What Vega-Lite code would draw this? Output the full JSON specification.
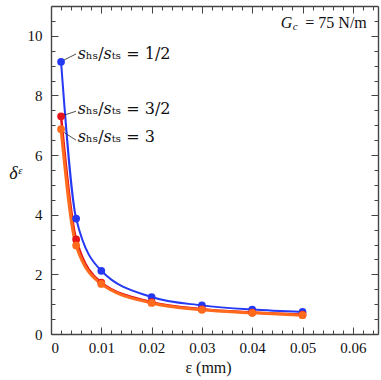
{
  "$schema": "https://vega.github.io/schema/vega-lite/v6.json",
  "width": 327,
  "height": 328,
  "autosize": "none",
  "padding": {"left": 51, "top": 6, "right": 3, "bottom": 46},
  "background": "white",
  "config": {
    "view": {"stroke": null},
    "font": "Liberation Serif",
    "text": {"font": "Liberation Serif"},
    "axis": {
      "grid": false,
      "domainColor": "#444",
      "domainWidth": 1.4,
      "tickColor": "#444",
      "tickWidth": 1,
      "labelFont": "Liberation Serif",
      "labelFontSize": 15,
      "labelColor": "#111",
      "titleFont": "Liberation Serif",
      "titleFontWeight": "normal",
      "titleColor": "#111"
    }
  },
  "datasets": {
    "series": [
      {"eps": 0.002, "delta": 9.13, "s": "1/2"},
      {"eps": 0.005, "delta": 3.87, "s": "1/2"},
      {"eps": 0.01, "delta": 2.12, "s": "1/2"},
      {"eps": 0.02, "delta": 1.24, "s": "1/2"},
      {"eps": 0.03, "delta": 0.96, "s": "1/2"},
      {"eps": 0.04, "delta": 0.82, "s": "1/2"},
      {"eps": 0.05, "delta": 0.74, "s": "1/2"},
      {"eps": 0.002, "delta": 7.3, "s": "3/2"},
      {"eps": 0.005, "delta": 3.17, "s": "3/2"},
      {"eps": 0.01, "delta": 1.72, "s": "3/2"},
      {"eps": 0.02, "delta": 1.07, "s": "3/2"},
      {"eps": 0.03, "delta": 0.83, "s": "3/2"},
      {"eps": 0.04, "delta": 0.72, "s": "3/2"},
      {"eps": 0.05, "delta": 0.65, "s": "3/2"},
      {"eps": 0.002, "delta": 6.87, "s": "3"},
      {"eps": 0.005, "delta": 2.97, "s": "3"},
      {"eps": 0.01, "delta": 1.68, "s": "3"},
      {"eps": 0.02, "delta": 1.04, "s": "3"},
      {"eps": 0.03, "delta": 0.81, "s": "3"},
      {"eps": 0.04, "delta": 0.71, "s": "3"},
      {"eps": 0.05, "delta": 0.63, "s": "3"}
    ],
    "leaders": [
      {"x1": 0.0026, "y1": 9.19, "x2": 0.00497, "y2": 9.39},
      {"x1": 0.0026, "y1": 7.34, "x2": 0.00497, "y2": 7.47},
      {"x1": 0.0026, "y1": 6.76, "x2": 0.00497, "y2": 6.5}
    ],
    "labels": [
      {"lx": 0.0053, "ly": 9.4, "txt": "𝑠ₕₛ/𝑠ₜₛ = 1/2"},
      {"lx": 0.0053, "ly": 7.55, "txt": "𝑠ₕₛ/𝑠ₜₛ = 3/2"},
      {"lx": 0.0053, "ly": 6.6, "txt": "𝑠ₕₛ/𝑠ₜₛ = 3"}
    ],
    "note": [
      {"nx": 0.06277, "ny": 10.43, "txt": "= 75 N/m"}
    ]
  },
  "layer": [
    {
      "data": {"name": "series"},
      "mark": {"type": "line", "interpolate": "monotone"},
      "encoding": {
        "x": {
          "field": "eps", "type": "quantitative",
          "scale": {"domain": [0, 0.065], "nice": false, "zero": false},
          "axis": {
            "orient": "bottom",
            "values": [0, 0.01, 0.02, 0.03, 0.04, 0.05, 0.06],
            "labelExpr": "datum.value == 0 ? '0' : format(datum.value, '.2f')",
            "labelFont": "Liberation Serif",
            "tickSize": -7,
            "labelPadding": 13,
            "title": "ε (mm)",
            "titleFont": "Liberation Serif",
            "titleFontSize": 16,
            "titleX": 157,
            "titleY": 33,
            "titleBaseline": "middle"
          }
        },
        "y": {
          "field": "delta", "type": "quantitative",
          "scale": {"domain": [0, 11], "nice": false, "zero": false},
          "axis": {
            "orient": "left",
            "values": [0, 2, 4, 6, 8, 10],
            "labelFont": "Liberation Serif",
            "tickSize": -7,
            "labelPadding": 16,
            "title": "δᵋ",
            "titleFont": "Liberation Serif",
            "titleFontStyle": "italic",
            "titleFontSize": 18,
            "titleAngle": 0,
            "titleX": -36,
            "titleY": 167,
            "titleAlign": "center",
            "titleBaseline": "middle"
          }
        },
        "color": {
          "field": "s", "type": "nominal",
          "scale": {"domain": ["1/2", "3/2", "3"], "range": ["#2639f2", "#e5141b", "#ff6a1c"]},
          "legend": null
        },
        "strokeWidth": {
          "field": "s", "type": "nominal",
          "scale": {"domain": ["1/2", "3/2", "3"], "range": [2, 3, 3.2]},
          "legend": null
        }
      }
    },
    {
      "data": {"name": "series"},
      "mark": {"type": "circle", "opacity": 1, "size": 60},
      "encoding": {
        "x": {"field": "eps", "type": "quantitative", "axis": null},
        "y": {"field": "delta", "type": "quantitative", "axis": null},
        "color": {
          "field": "s", "type": "nominal",
          "scale": {"domain": ["1/2", "3/2", "3"], "range": ["#2639f2", "#e5141b", "#ff6a1c"]},
          "legend": null
        }
      }
    },
    {
      "data": {"name": "series"},
      "mark": {"type": "point", "opacity": 0},
      "encoding": {
        "x": {"field": "eps", "type": "quantitative",
          "axis": {"orient": "top", "values": [0, 0.01, 0.02, 0.03, 0.04, 0.05, 0.06], "tickSize": -7, "labels": false, "title": null}},
        "y": {"field": "delta", "type": "quantitative",
          "axis": {"orient": "right", "values": [0, 2, 4, 6, 8, 10], "tickSize": -7, "labels": false, "title": null}}
      }
    },
    {
      "data": {"name": "series"},
      "mark": {"type": "point", "opacity": 0},
      "encoding": {
        "x": {"field": "eps", "type": "quantitative",
          "axis": {"orient": "bottom", "domain": false, "values": [0.002, 0.004, 0.006, 0.008, 0.012, 0.014, 0.016, 0.018, 0.022, 0.024, 0.026, 0.028, 0.032, 0.034, 0.036, 0.038, 0.042, 0.044, 0.046, 0.048, 0.052, 0.054, 0.056, 0.058, 0.062, 0.064], "tickSize": -4, "labels": false, "title": null}},
        "y": {"field": "delta", "type": "quantitative",
          "axis": {"orient": "left", "domain": false, "values": [0.5, 1, 1.5, 2.5, 3, 3.5, 4.5, 5, 5.5, 6.5, 7, 7.5, 8.5, 9, 9.5, 10.5], "tickSize": -4, "labels": false, "title": null}}
      }
    },
    {
      "data": {"name": "series"},
      "mark": {"type": "point", "opacity": 0},
      "encoding": {
        "x": {"field": "eps", "type": "quantitative",
          "axis": {"orient": "top", "domain": false, "values": [0.002, 0.004, 0.006, 0.008, 0.012, 0.014, 0.016, 0.018, 0.022, 0.024, 0.026, 0.028, 0.032, 0.034, 0.036, 0.038, 0.042, 0.044, 0.046, 0.048, 0.052, 0.054, 0.056, 0.058, 0.062, 0.064], "tickSize": -4, "labels": false, "title": null}},
        "y": {"field": "delta", "type": "quantitative",
          "axis": {"orient": "right", "domain": false, "values": [0.5, 1, 1.5, 2.5, 3, 3.5, 4.5, 5, 5.5, 6.5, 7, 7.5, 8.5, 9, 9.5, 10.5], "tickSize": -4, "labels": false, "title": null}}
      }
    },
    {
      "data": {"name": "leaders"},
      "mark": {"type": "rule", "color": "#222", "strokeWidth": 0.8},
      "encoding": {
        "x": {"field": "x1", "type": "quantitative", "axis": null},
        "y": {"field": "y1", "type": "quantitative", "axis": null},
        "x2": {"field": "x2"},
        "y2": {"field": "y2"}
      }
    },
    {
      "data": {"name": "labels"},
      "mark": {"type": "text", "align": "left", "baseline": "middle", "fontSize": 16, "font": "DejaVu Serif", "color": "#111"},
      "encoding": {
        "x": {"field": "lx", "type": "quantitative", "axis": null},
        "y": {"field": "ly", "type": "quantitative", "axis": null},
        "text": {"field": "txt"}
      }
    },
    {
      "data": {"name": "note"},
      "mark": {"type": "text", "align": "right", "baseline": "middle", "fontSize": 16, "font": "Liberation Serif", "color": "#111"},
      "encoding": {
        "x": {"field": "nx", "type": "quantitative", "axis": null},
        "y": {"field": "ny", "type": "quantitative", "axis": null},
        "text": {"field": "txt"}
      }
    },
    {
      "data": {"name": "note"},
      "mark": {"type": "text", "align": "left", "baseline": "middle", "fontSize": 16, "font": "Liberation Serif", "fontStyle": "italic", "dx": -86, "color": "#111"},
      "encoding": {
        "x": {"field": "nx", "type": "quantitative", "axis": null},
        "y": {"field": "ny", "type": "quantitative", "axis": null},
        "text": {"value": "G"}
      }
    },
    {
      "data": {"name": "note"},
      "mark": {"type": "text", "align": "left", "baseline": "middle", "fontSize": 11, "font": "Liberation Serif", "fontStyle": "italic", "dx": -74, "dy": 4, "color": "#111"},
      "encoding": {
        "x": {"field": "nx", "type": "quantitative", "axis": null},
        "y": {"field": "ny", "type": "quantitative", "axis": null},
        "text": {"value": "c"}
      }
    }
  ],
  "resolve": {"axis": {"x": "independent", "y": "independent"}}
}
